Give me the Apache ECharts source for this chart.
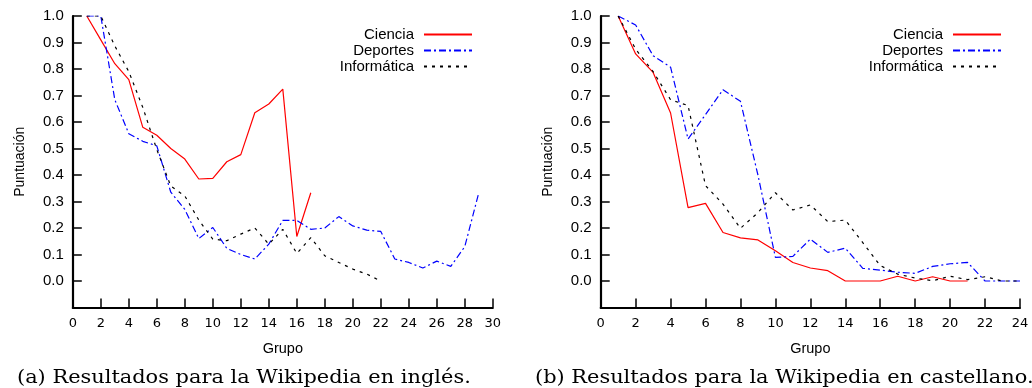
<!DOCTYPE html>
<html>
<head>
<meta charset="utf-8">
<script src="https://cdn.jsdelivr.net/npm/echarts@6/dist/echarts.min.js"></script>
<style>
  html, body { margin: 0; padding: 0; background: #fff; }
  #chart { width: 1032px; height: 388px; }
</style>
</head>
<body>
<div id="chart"></div>
<script>
// ---- Data ----
const seriesNames = ['Ciencia', 'Deportes', 'Informática'];

// (a) Wikipedia en inglés
const cienciaEn = [1.0, 0.91, 0.82, 0.76, 0.58, 0.55, 0.50, 0.46, 0.385, 0.387, 0.45, 0.477, 0.635, 0.668, 0.724, 0.168, 0.333];
const deportesEn = [1.0, 1.0, 0.684, 0.556, 0.527, 0.51, 0.335, 0.27, 0.16, 0.202, 0.123, 0.10, 0.083, 0.139, 0.229, 0.229, 0.195, 0.20, 0.243, 0.208, 0.192, 0.187, 0.083, 0.07, 0.049, 0.075, 0.055, 0.13, 0.333];
const informaticaEn = [1.0, 1.0, 0.887, 0.79, 0.655, 0.496, 0.358, 0.321, 0.23, 0.158, 0.152, 0.177, 0.20, 0.139, 0.195, 0.104, 0.164, 0.095, 0.07, 0.045, 0.026, 0.0];

// (b) Wikipedia en castellano
const cienciaEs = [1.0, 0.857, 0.787, 0.634, 0.277, 0.293, 0.183, 0.163, 0.155, 0.114, 0.07, 0.049, 0.039, 0.0, 0.0, 0.0, 0.018, 0.0, 0.016, 0.0, 0.0];
const deportesEs = [1.0, 0.966, 0.85, 0.807, 0.536, 0.628, 0.722, 0.678, 0.40, 0.089, 0.093, 0.158, 0.108, 0.124, 0.048, 0.041, 0.033, 0.029, 0.055, 0.065, 0.07, 0.0, 0.0, 0.0];
const informaticaEs = [1.0, 0.875, 0.79, 0.684, 0.662, 0.36, 0.29, 0.199, 0.258, 0.333, 0.268, 0.287, 0.224, 0.23, 0.145, 0.058, 0.026, 0.011, 0.001, 0.018, 0.005, 0.016, 0.0, 0.0];

const xMaxEn = 30, xMaxEs = 24, xStep = 2;
const yMin = -0.1, yMax = 1.0, yStep = 0.1;
const xName = 'Grupo', yName = 'Puntuación';
const captionA = '(a) Resultados para la Wikipedia en inglés.';
const captionB = '(b) Resultados para la Wikipedia en castellano.';

// ---- Helpers ----
const toPairs = arr => arr.map((v, i) => [i + 1, v]);
const colors = { 'Ciencia': '#ff0000', 'Deportes': '#0000ff', 'Informática': '#000000' };
const dashes = { 'Ciencia': 'solid', 'Deportes': [7, 3, 2, 3], 'Informática': [3, 5] };

function xAxis(gridIndex, max) {
  return {
    type: 'value', gridIndex, min: 0, max, interval: xStep,
    name: xName, nameLocation: 'middle', nameGap: 34,
    nameTextStyle: { fontFamily: 'Liberation Sans', fontSize: 14.5, color: '#000' },
    axisLine: { onZero: false, lineStyle: { color: '#000', width: 2.2 } },
    axisTick: { inside: true, length: 9, lineStyle: { color: '#000', width: 1.5 } },
    axisLabel: { margin: 10, fontFamily: 'DejaVu Sans', fontSize: 13, color: '#000', showMinLabel: true, showMaxLabel: true },
    splitLine: { show: false }
  };
}
function yAxis(gridIndex) {
  return {
    type: 'value', gridIndex, min: yMin, max: yMax, interval: yStep,
    name: yName, nameLocation: 'middle', nameGap: 46,
    nameTextStyle: { fontFamily: 'Liberation Sans', fontSize: 14, color: '#000' },
    axisLine: { show: true, onZero: false, lineStyle: { color: '#000', width: 2.2 } },
    axisTick: { show: true, inside: true, length: 9, lineStyle: { color: '#000', width: 1.5 } },
    axisLabel: {
      margin: 9, fontFamily: 'Liberation Sans', fontSize: 15, color: '#000',
      formatter: v => (v < -0.05 ? '' : v.toFixed(1))
    },
    splitLine: { show: false }
  };
}
function line(name, data, idx) {
  return {
    name, type: 'line', xAxisIndex: idx, yAxisIndex: idx, data: toPairs(data),
    symbol: 'none', animation: false,
    lineStyle: { color: colors[name], width: 1.2, type: dashes[name] },
    itemStyle: { color: colors[name] }
  };
}
function legends(rightPx) {
  return seriesNames.map((n, i) => ({
    data: [n], orient: 'vertical', right: rightPx, top: 27 + i * 16,
    align: 'right', itemWidth: 48, itemHeight: 14, padding: 0,
    selectedMode: false,
    itemStyle: { opacity: 0 },
    textStyle: { fontFamily: 'Liberation Sans', fontSize: 15, color: '#000', padding: [0, 5, 0, 0] }
  }));
}

const chart = echarts.init(document.getElementById('chart'), null, { renderer: 'canvas' });
chart.setOption({
  backgroundColor: '#fff',
  animation: false,
  grid: [
    { left: 72.8, top: 16, width: 420, height: 291.5, containLabel: false },
    { left: 600.7, top: 16, width: 419.3, height: 291.5, containLabel: false }
  ],
  xAxis: [xAxis(0, xMaxEn), xAxis(1, xMaxEs)],
  yAxis: [yAxis(0), yAxis(1)],
  legend: [...legends(559), ...legends(30)],
  series: [
    line('Ciencia', cienciaEn, 0),
    line('Deportes', deportesEn, 0),
    line('Informática', informaticaEn, 0),
    line('Ciencia', cienciaEs, 1),
    line('Deportes', deportesEs, 1),
    line('Informática', informaticaEs, 1)
  ],
  graphic: [
    { type: 'text', x: 17, y: 369, scaleX: 1.1, style: { text: captionA, font: '19px "DejaVu Serif"', fill: '#000' } },
    { type: 'text', x: 535, y: 369, scaleX: 1.1, style: { text: captionB, font: '19px "DejaVu Serif"', fill: '#000' } }
  ]
});
</script>
</body>
</html>
